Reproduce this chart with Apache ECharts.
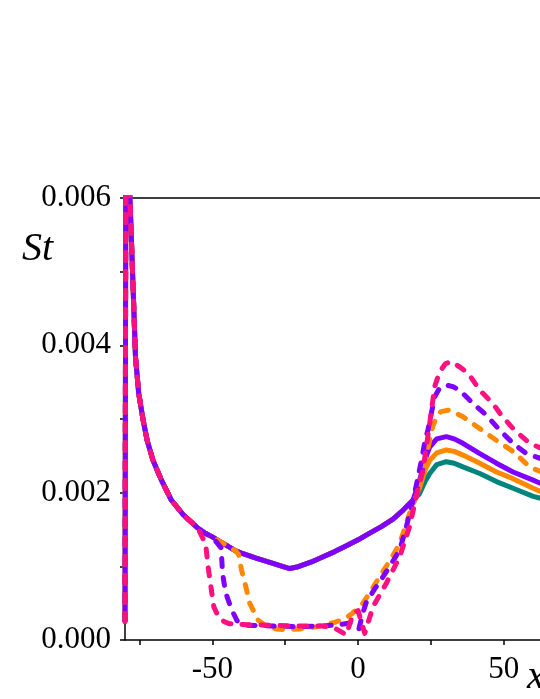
<!DOCTYPE html>
<html>
<head>
<meta charset="utf-8">
<script src="https://cdn.jsdelivr.net/npm/echarts@6/dist/echarts.min.js"></script>
<style>
  html, body { margin: 0; padding: 0; background: #fff; }
  #chart { width: 540px; height: 699px; }
</style>
</head>
<body>
<div id="chart"></div>
<script>
// St values are stored in units of 1e-3
// shared leading part of every curve (x, St*1e3)
const baseX = [-80, -79.6, -78.3, -77.4, -76.4, -75.3, -73.8, -72.4, -70.4, -67.5, -64.1, -60, -55, -52.5, -50, -47.5, -45, -42, -40, -35, -30, -26, -23.4, -21, -16, -12, -8, -4, 0, 4, 8, 12, 15.4, 18.9];
const baseY = [0.25, 9.0, 6.0, 4.98, 3.84, 3.35, 2.99, 2.71, 2.44, 2.17, 1.90, 1.70, 1.52, 1.45, 1.40, 1.34, 1.28, 1.21, 1.18, 1.11, 1.05, 1.00, 0.97, 0.99, 1.06, 1.13, 1.20, 1.28, 1.36, 1.45, 1.54, 1.64, 1.76, 1.90];

// solid curves, after they split (x > 18.9)
const purpleSolidX = [21, 23, 24.6, 27, 30.3, 33, 36, 41.8, 47.5, 53.2, 60.1, 63];
const purpleSolidY = [2.15, 2.45, 2.62, 2.73, 2.76, 2.73, 2.67, 2.53, 2.40, 2.28, 2.17, 2.12];
const orangeSolidX = [21, 23, 24.6, 27, 30.3, 33, 36, 41.8, 47.5, 53.2, 60.1, 63];
const orangeSolidY = [2.05, 2.30, 2.44, 2.54, 2.58, 2.56, 2.51, 2.40, 2.28, 2.19, 2.06, 2.01];
const tealX = [21, 23, 24.6, 27, 30.3, 33, 36, 41.8, 47.5, 53.2, 60.1, 63];
const tealY = [1.98, 2.15, 2.26, 2.38, 2.42, 2.40, 2.35, 2.26, 2.15, 2.06, 1.95, 1.92];

// dashed curves: how many base points they keep, then their own tail
const orangeDashKeep = 18;
const orangeDashX = [-41, -40, -38.5, -37.2, -34.3, -31.4, -28, -24.6, -20, -14.3, -8, -5, -2, 1.7, 4, 7.4, 11, 14.3, 17.7, 20, 22, 24, 25.5, 26.9, 28.5, 30.9, 33, 36, 41.8, 47.5, 53.2, 58.9, 63];
const orangeDashY = [1.16, 0.95, 0.72, 0.50, 0.27, 0.18, 0.15, 0.14, 0.15, 0.18, 0.24, 0.28, 0.36, 0.50, 0.64, 0.86, 1.08, 1.31, 1.72, 1.95, 2.25, 2.60, 2.88, 3.03, 3.10, 3.12, 3.09, 3.03, 2.87, 2.71, 2.56, 2.35, 2.28];
const purpleDashKeep = 15;
const purpleDashX = [-47, -46.5, -45.5, -43.5, -41.5, -38.5, -30, -20, -12, -6, -2.8, 0.3, 1.5, 2.9, 5.5, 8.6, 11.5, 14.3, 16.6, 18.9, 21.8, 23, 24, 26.3, 28, 30.3, 32.5, 34.9, 39.5, 44.1, 48.6, 53.2, 57.8, 63];
const purpleDashY = [1.25, 0.90, 0.65, 0.42, 0.26, 0.20, 0.19, 0.18, 0.19, 0.21, 0.23, 0.15, 0.35, 0.52, 0.68, 0.86, 1.04, 1.22, 1.54, 1.90, 2.44, 2.71, 2.85, 3.30, 3.42, 3.46, 3.44, 3.39, 3.21, 3.05, 2.85, 2.67, 2.53, 2.46];
const pinkDashKeep = 13;
const pinkDashX = [-52.3, -51.5, -50.5, -49.5, -48, -46, -44, -40, -30, -20, -12, -8, -4, -1.7, 0, 2.3, 5.1, 9.7, 14.3, 17.7, 20, 22.3, 24.6, 26.3, 28, 30, 32.1, 35.5, 37.8, 41.8, 46.3, 49.2, 53.2, 58.9, 63];
const pinkDashY = [1.30, 1.00, 0.72, 0.45, 0.32, 0.25, 0.22, 0.21, 0.20, 0.19, 0.19, 0.16, 0.07, 0.36, 0.40, 0.09, 0.45, 0.77, 1.13, 1.54, 1.95, 2.31, 2.94, 3.44, 3.64, 3.75, 3.78, 3.69, 3.62, 3.39, 3.21, 3.05, 2.87, 2.67, 2.60];

const xTicks = [-75, -50, -25, 0, 25, 50];
const xLabels = [-50, 0, 50];

const toPairs = (xs, ys) => xs.map((x, i) => [x, ys[i] / 1000]);
const basePairs = toPairs(baseX, baseY);
const solid = (tx, ty) => basePairs.concat(toPairs(tx, ty));
const dashed = (keep, tx, ty) => basePairs.slice(0, keep).concat(toPairs(tx, ty));

const font = "'Liberation Serif', 'Times New Roman', serif";
const chart = echarts.init(document.getElementById('chart'));

function line(data, color, dash) {
    return {
        type: 'line',
        data: data,
        showSymbol: false,
        clip: true,
        lineStyle: {
            color: color,
            width: 5,
            type: dash ? [8, 11] : 'solid',
            cap: dash ? 'round' : 'butt',
            join: 'round'
        }
    };
}

chart.setOption({
    animation: false,
    grid: { left: 125, top: 198, right: 0, bottom: 59 },
    xAxis: [
        {
            type: 'value',
            min: -80,
            max: 62.46,
            axisLine: { onZero: false, lineStyle: { color: '#000', width: 1.5 } },
            axisTick: { customValues: xTicks, length: 5, lineStyle: { color: '#000', width: 1.5 } },
            axisLabel: {
                customValues: xLabels,
                margin: 14,
                color: '#000',
                fontFamily: font,
                fontSize: 31
            },
            splitLine: { show: false }
        },
        {
            type: 'value',
            position: 'top',
            min: -80,
            max: 62.46,
            axisLine: { show: true, onZero: false, lineStyle: { color: '#000', width: 1.5 } },
            axisTick: { show: false },
            axisLabel: { show: false },
            splitLine: { show: false }
        }
    ],
    yAxis: {
        type: 'value',
        min: 0,
        max: 0.006,
        interval: 0.001,
        axisLine: { show: true, onZero: false, lineStyle: { color: '#000', width: 1.5 } },
        axisTick: { show: true, length: 5, lineStyle: { color: '#000', width: 1.5 } },
        axisLabel: {
            interval: 0,
            margin: 14,
            color: '#000',
            fontFamily: font,
            fontSize: 31,
            formatter: (v) => (Math.round(v * 1000) % 2 === 0 ? v.toFixed(3) : '')
        },
        splitLine: { show: false }
    },
    graphic: [
        { type: 'text', left: 22, top: 229, style: { text: 'St', font: 'italic 40px ' + font, fill: '#000' } },
        { type: 'text', left: 527, top: 657, style: { text: 'x', font: 'italic 40px ' + font, fill: '#000' } }
    ],
    series: [
        line(solid(tealX, tealY), '#00857d', false),
        line(solid(orangeSolidX, orangeSolidY), '#ff8800', false),
        line(solid(purpleSolidX, purpleSolidY), '#8000ff', false),
        line(dashed(orangeDashKeep, orangeDashX, orangeDashY), '#ff8800', true),
        line(dashed(purpleDashKeep, purpleDashX, purpleDashY), '#8000ff', true),
        line(dashed(pinkDashKeep, pinkDashX, pinkDashY), '#ff1080', true)
    ]
});
</script>
</body>
</html>
